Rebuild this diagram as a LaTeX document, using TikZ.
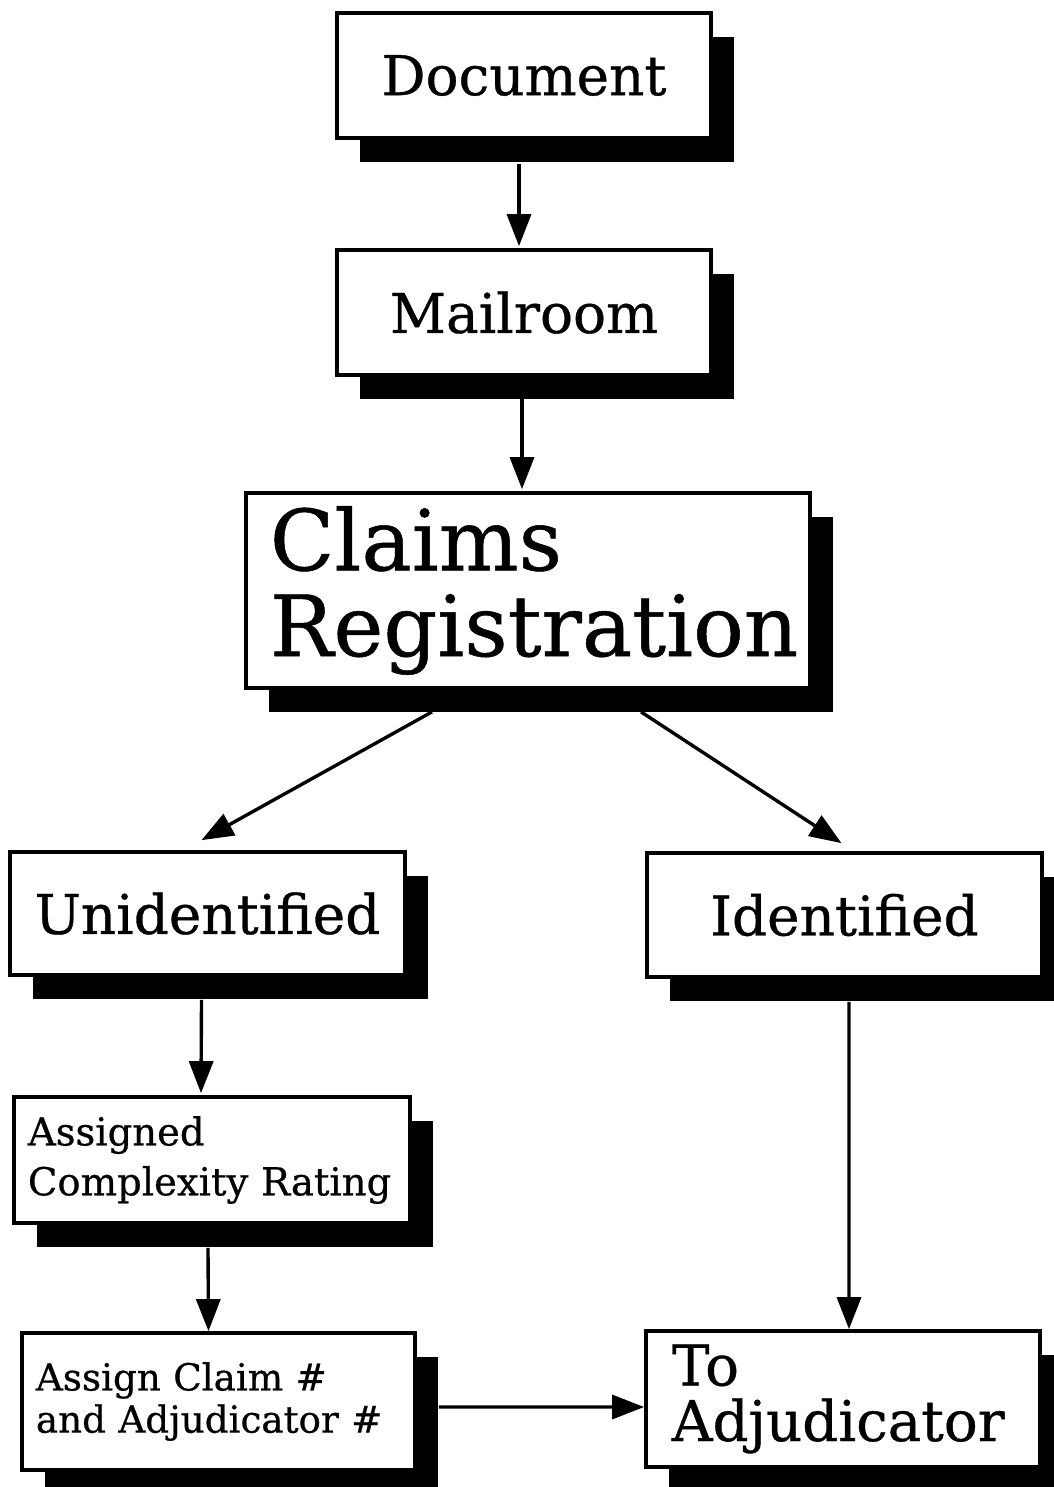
\documentclass[tikz,border=0pt]{standalone}
\usepackage{fontspec}
\setmainfont[FakeBold=0.6,AutoFakeBold=0.6]{DejaVu Serif}
\usetikzlibrary{shadows,arrows.meta,calc}

\begin{document}
\begin{tikzpicture}[x=0.025cm,y=-0.025cm,
  box/.style={draw, line width=2.6pt, fill=white, inner sep=0pt,
    font=\bfseries,
    drop shadow={shadow xshift=0.575cm, shadow yshift=-0.6cm, opacity=1, fill=black}},
  arr/.style={line width=2.4pt, -{Triangle[length=0.8cm,width=0.6cm]}}]
\useasboundingbox (0,0) rectangle (1053,1487);

% boxes
\node[box, minimum width=9.35cm, minimum height=3.125cm, font=\fontsize{39}{44}\selectfont\bfseries]
  (doc) at (524,75.5) {Document};
\node[box, minimum width=9.35cm, minimum height=3.125cm, font=\fontsize{39}{44}\selectfont\bfseries]
  (mail) at (524,312.5) {Mailroom};
\node[box, minimum width=14.1cm, minimum height=4.875cm, inner xsep=0.6cm,
  text width=12.9cm, align=left, font=\fontsize{60}{61}\selectfont\bfseries]
  (claims) at (528,590.5) {Claims\\Registration};
\node[box, minimum width=9.875cm, minimum height=3.075cm, font=\fontsize{39}{42}\selectfont\bfseries]
  (unid) at (207.5,913.5) {Unidentified};
\node[box, minimum width=9.875cm, minimum height=3.1cm, font=\fontsize{39}{42}\selectfont\bfseries]
  (ident) at (844.5,915) {Identified};
\node[box, minimum width=9.9cm, minimum height=3.15cm, inner xsep=0.35cm,
  text width=9.2cm, align=left, font=\fontsize{27.4}{35.5}\selectfont\bfseries]
  (rating) at (212,1160) {Assigned\\Complexity Rating};
\node[box, minimum width=9.825cm, minimum height=3.425cm, inner xsep=0.35cm,
  text width=9.125cm, align=left, font=\fontsize{26.5}{30}\selectfont\bfseries]
  (claimno) at (218.5,1401.5) {Assign Claim \#\\and Adjudicator \#};
\node[box, minimum width=9.85cm, minimum height=3.4cm, inner xsep=0.65cm,
  text width=8.55cm, align=left, font=\fontsize{40}{39.5}\selectfont\bfseries]
  (toadj) at (843,1399) {To\\Adjudicator};

% connectors
\draw[arr] ($(doc.south)+(-5,24)$) -- ($(mail.north)+(-5,-2)$);
\draw[arr] ($(mail.south)+(-2,22)$) -- ($(claims.north)+(-6,-2)$);
\draw[arr] ($(claims.south)+(-96,22)$) -- ($(unid.north)+(-6,-10)$);
\draw[arr] ($(claims.south)+(113,22)$) -- ($(ident.north)+(-3,-8)$);
\draw[arr] ($(unid.south)+(-6,23)$) -- ($(rating.north)+(-11,-2)$);
\draw[arr] ($(rating.south)+(-4,23)$) -- ($(claimno.north)+(-10,0)$);
\draw[arr] ($(ident.south)+(4.5,23)$) -- ($(toadj.north)+(6,0)$);
\draw[arr] ($(claimno.east)+(22,5.5)$) -- ($(toadj.west)+(0,8)$);
\end{tikzpicture}
\end{document}
